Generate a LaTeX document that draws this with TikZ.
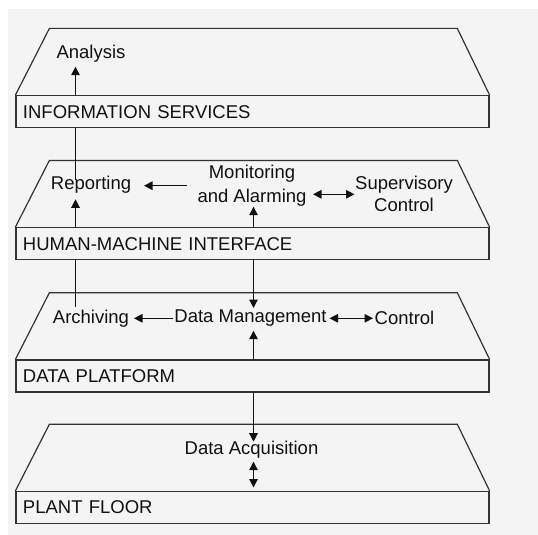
\documentclass[tikz,border=0pt]{standalone}
\usepackage{fontspec}
\setmainfont{Liberation Sans}
\usetikzlibrary{arrows.meta,calc}
\definecolor{bggray}{HTML}{F4F4F4}
\definecolor{linec}{HTML}{333333}
\definecolor{textc}{HTML}{111111}
\begin{document}
\begin{tikzpicture}[x=1pt,y=-1pt,
  every node/.style={inner sep=0pt, text=textc, font=\fontsize{18.5}{24}\selectfont},
  layer/.style={draw=linec, line width=1.2pt, minimum width=473pt, minimum height=32pt,
    inner xsep=7pt, inner ysep=0pt, text width=459pt, align=left},
  edge/.style={draw=linec, line width=1.2pt},
  conn/.style={draw=textc, line width=1.3pt},
  tipA/.tip={Triangle[length=8.5pt,width=8.5pt]},
  arr/.style={conn, -tipA},
  dbl/.style={conn, tipA-tipA}
]
\useasboundingbox (0,0) rectangle (538,535);
\fill[white] (0,0) rectangle (538,535);
\fill[bggray] (7.5,9) rectangle (538,535);

% layer rectangles
\node[layer] (IS)  at (252.5,111.7) {INFORMATION SERVICES};
\node[layer] (HMI) at (252.5,243.7) {HUMAN-MACHINE INTERFACE};
\node[layer] (DP)  at (252.5,376.0) {DATA PLATFORM};
\node[layer] (PF)  at (252.5,507.5) {PLANT FLOOR};

% trapezoid tops
\foreach \r in {IS,HMI,DP,PF}{
  \draw[edge] (\r.north west) -- ++(34,-66.7) -- ($(\r.north east)+(-32.3,-66.7)$) -- (\r.north east);
}

% column coordinates
\coordinate (colA) at (75.5,0);
\coordinate (colB) at (253.5,0);

% text nodes
\node (Ana) at (91,53.3) {Analysis};
\node (Rep) at (91,185) {Reporting};
\node[align=center, font=\fontsize{18.5}{24}\selectfont] (Mon) at (252,185.3) {Monitoring\\and Alarming};
\node[align=center, font=\fontsize{18.5}{22.5}\selectfont] (Sup) at (404,193.9) {Supervisory\\Control};
\node (Arc) at (91,318.3) {Archiving};
\node (DM)  at (250.5,318.3) {Data Management};
\node (Ctl) at (404.5,318.3) {Control};
\node (DA)  at (251.5,449.3) {Data Acquisition};

% connectors
\draw[arr] (colA |- IS.north) -- ($(colA |- Ana.center)+(0,13.4)$);
\draw[conn] (colA |- IS.south) -- ($(colA |- Rep.center)+(0,-5)$);
\draw[arr] (colA |- HMI.north) -- ($(colA |- Rep.center)+(0,14.3)$);
\draw[arr] ($(Mon.center)+(-65,0.4)$) -- ($(Rep.center |- Mon.center)+(53,0.4)$);
\draw[arr] (colB |- HMI.north) -- ($(colB |- Mon.center)+(0,21.4)$);
\draw[dbl] ($(Mon.center)+(61,9)$) -- ($(Sup.center |- Mon.center)+(-49.5,9)$);

\draw[conn] (colA |- HMI.south) -- ($(colA |- Arc.center)+(0,-11.6)$);
\draw[arr] (colB |- HMI.south) -- ($(colB |- DM.center)+(0,-10.3)$);
\draw[arr] (colB |- DP.north) -- ($(colB |- DM.center)+(0,12.4)$);
\draw[arr] ($(DM.center)+(-77.5,0)$) -- ($(Arc.center)+(43,0)$);
\draw[dbl] ($(DM.center)+(79,0)$) -- ($(Ctl.center)+(-31.5,0)$);

\draw[arr] (colB |- DP.south) -- ($(colB |- DA.center)+(0,-7.6)$);
\draw[dbl] ($(colB |- DA.center)+(0,12.4)$) -- ($(colB |- PF.north)+(0,-3.4)$);
\end{tikzpicture}
\end{document}
